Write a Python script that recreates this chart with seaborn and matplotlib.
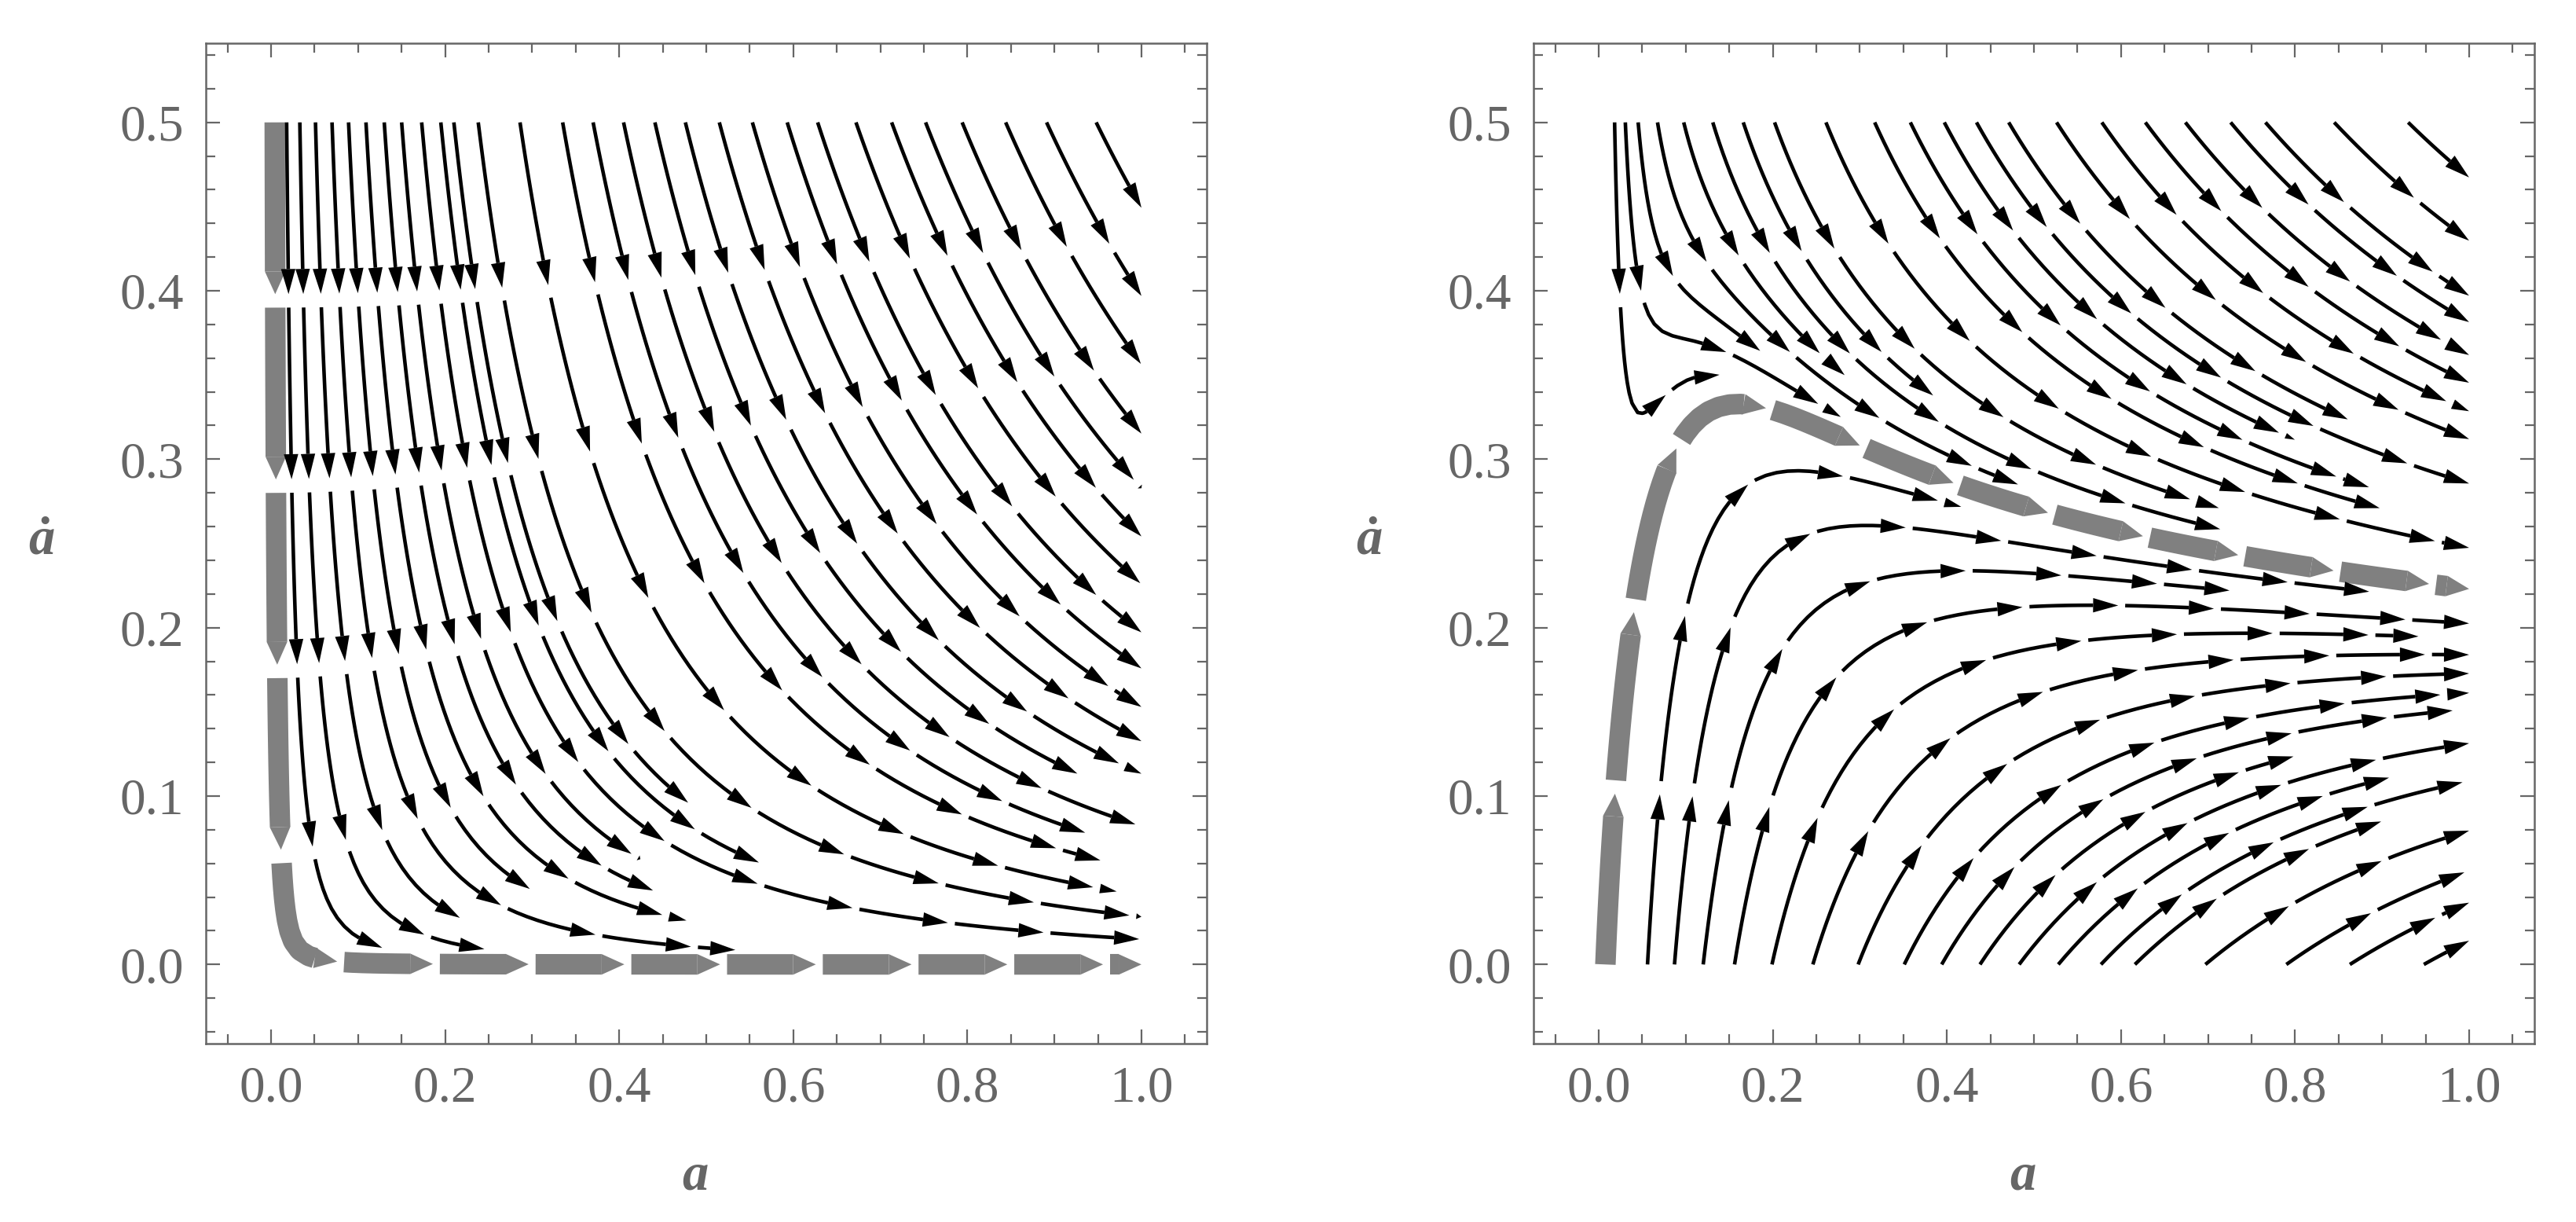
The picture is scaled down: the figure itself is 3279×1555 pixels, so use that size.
import numpy as np
import matplotlib
matplotlib.use("Agg")
import matplotlib.pyplot as plt
import seaborn as sns
from matplotlib.patches import FancyArrowPatch
from matplotlib.ticker import MultipleLocator, FormatStrFormatter

# ---------------- model parameters ----------------
# left panel:  a'' = -stiff_p * a'^2 / a      (trajectories a' ~ C / a^2)
stiff_p = 2.0
# right panel: trajectories a' = g(a) + C / a^relax_k, with the gray track g(a)
g_amp, g_pow, g_a0, g_tau = 0.223, 0.28, 0.0076, 0.068
relax_k = 1.5

# ---------------- stream seeds ----------------
left_gray_seed = [(0.0042, 0.5)]
left_top_a = [0.033, 0.051, 0.070, 0.089, 0.109, 0.130, 0.150, 0.173, 0.195,
              0.238, 0.286, 0.335, 0.370, 0.405, 0.441, 0.476, 0.515, 0.553,
              0.593, 0.628, 0.672, 0.713, 0.752, 0.794, 0.844, 0.891, 0.948]
left_extra = [(0.0215, 0.345), (0.21, 0.5)]

right_gray_seed = [(0.0076, 0.0)]
right_bottom_a = [0.056, 0.087, 0.120, 0.156, 0.199, 0.246, 0.298, 0.351,
                  0.394, 0.438, 0.483, 0.528, 0.577, 0.616, 0.697, 0.790,
                  0.863, 0.948]
right_top_a = [0.0305, 0.0675, 0.0976, 0.131, 0.166, 0.202, 0.261, 0.317,
               0.358, 0.397, 0.434, 0.471, 0.526, 0.578, 0.628, 0.674, 0.726,
               0.766, 0.845, 0.930]
right_extra = [(0.019, 0.48), (0.048, 0.485)]

a_range = (0.001, 1.0)
adot_range = (0.0, 0.5)

# ---------------- style ----------------
DPI = 200
W, H = 3279, 1555
frame_col = "#666666"
gray_col = "#808080"

sns.set_theme(style="ticks")
plt.rcParams["font.family"] = ["Liberation Serif", "DejaVu Serif"]
plt.rcParams.update({
    "axes.edgecolor": frame_col, "axes.linewidth": 0.9,
    "xtick.color": frame_col, "ytick.color": frame_col,
    "xtick.labelcolor": frame_col, "ytick.labelcolor": frame_col,
    "xtick.direction": "in", "ytick.direction": "in",
    "xtick.major.size": 6.5, "ytick.major.size": 6.5,
    "xtick.minor.size": 4.2, "ytick.minor.size": 4.2,
    "xtick.major.width": 0.8, "ytick.major.width": 0.8,
    "xtick.minor.width": 0.8, "ytick.minor.width": 0.8,
    "xtick.major.pad": 10, "ytick.major.pad": 10,
    "xtick.labelsize": 23.5, "ytick.labelsize": 23.5,
    "font.size": 23.5,
})


def left_field(A, Y):
    U = np.ones_like(A)
    V = -stiff_p * Y / A
    return U, V


def g_track(a):
    e = np.exp(-(a - g_a0) / g_tau)
    g = g_amp * a ** (-g_pow) * (1 - e)
    dg = g_amp * (-g_pow * a ** (-g_pow - 1) * (1 - e) + a ** (-g_pow) * e / g_tau)
    return g, dg


def right_field(A, Y):
    g, dg = g_track(A)
    U = np.ones_like(A)
    V = dg + relax_k * (g - Y) / A
    return U, V


def get_streams(field, seeds, density):
    a = np.linspace(*a_range, 1000)
    y = np.linspace(*adot_range, 500)
    A, Y = np.meshgrid(a, y)
    U, V = field(A, Y)
    f2, a2 = plt.subplots()
    sp = a2.streamplot(a, y, U, V, start_points=np.array(seeds), density=density,
                       broken_streamlines=True, integration_direction="both",
                       maxlength=20, minlength=0.01)
    segs = sp.lines.get_segments()
    plt.close(f2)
    return segs


def draw_dashed(ax, pts, color, lw, head_len, head_w, period=0.11, dash=0.102):
    # Mathematica style: chunks of fixed arc length, each ending with an arrow head
    d = np.hypot(np.diff(pts[:, 0]), np.diff(pts[:, 1]))
    s = np.concatenate([[0], np.cumsum(d)])
    total = s[-1]
    px_per_pt = DPI / 72.0
    start = 0.0
    while start < total - 2e-3:
        end = min(start + dash, total)
        ss = np.linspace(start, end, 60)
        xs = np.interp(ss, s, pts[:, 0])
        ys = np.interp(ss, s, pts[:, 1])
        disp = ax.transData.transform(np.column_stack([xs, ys]))
        dl = np.concatenate([[0], np.cumsum(np.hypot(*np.diff(disp, axis=0).T))])
        plen = dl[-1]
        hl_px = min(head_len * px_per_pt, plen)
        cut = plen - hl_px
        if cut > 0.5:
            k = np.searchsorted(dl, cut)
            cx = np.interp(cut, dl, xs)
            cy = np.interp(cut, dl, ys)
            ax.plot(np.r_[xs[:k], cx], np.r_[ys[:k], cy], color=color, lw=lw,
                    solid_capstyle="butt", solid_joinstyle="round", zorder=3)
        else:
            cx, cy = xs[0], ys[0]
        scale = hl_px / (head_len * px_per_pt)
        if plen > 1.0:
            arr = FancyArrowPatch((cx, cy), (xs[-1], ys[-1]),
                                  arrowstyle=f"-|>,head_length={head_len * scale:.3f},"
                                             f"head_width={head_w * max(scale, 0.4):.3f}",
                                  mutation_scale=1, lw=0, color=color,
                                  shrinkA=0, shrinkB=0, zorder=3)
            ax.add_patch(arr)
        start += period


def style_axes(ax):
    ax.set_xlim(-0.075, 1.075)
    ax.set_ylim(-0.047, 0.547)
    ax.xaxis.set_major_locator(MultipleLocator(0.2))
    ax.xaxis.set_minor_locator(MultipleLocator(0.05))
    ax.yaxis.set_major_locator(MultipleLocator(0.1))
    ax.yaxis.set_minor_locator(MultipleLocator(0.02))
    ax.xaxis.set_major_formatter(FormatStrFormatter("%.1f"))
    ax.yaxis.set_major_formatter(FormatStrFormatter("%.1f"))
    ax.tick_params(which="both", top=True, right=True, labeltop=False, labelright=False)
    for sp in ax.spines.values():
        sp.set_visible(True)
    ax.set_xlabel("a", fontsize=24, fontweight="bold", fontstyle="italic",
                  color=frame_col, va="center")
    ax.xaxis.set_label_coords(0.489, -0.133)
    ax.set_ylabel("ȧ", fontsize=24, fontweight="bold", fontstyle="italic",
                  color=frame_col, rotation=0, va="center", ha="center")
    ax.yaxis.set_label_coords(-0.164, 0.503)


fig = plt.figure(figsize=(W / DPI, H / DPI), dpi=DPI)
ax_l = fig.add_axes([262 / W, 1 - 1328 / H, 1274 / W, 1273 / H])
ax_r = fig.add_axes([1952 / W, 1 - 1328 / H, 1274 / W, 1273 / H])
for ax in (ax_l, ax_r):
    style_axes(ax)

black_style = dict(lw=1.65, head_len=11.5, head_w=3.3)
gray_style = dict(lw=9.4, head_len=10.4, head_w=4.7)

# left panel
seeds_l = left_gray_seed + [(a, 0.5) for a in left_top_a] + left_extra
segs_l = get_streams(left_field, seeds_l, (2.6, 1.0))
for i, seg in enumerate(segs_l):
    if i == 0:
        draw_dashed(ax_l, seg, gray_col, **gray_style)
    else:
        draw_dashed(ax_l, seg, "black", **black_style)

# right panel
seeds_r = (right_gray_seed + [(a, 0.0) for a in right_bottom_a]
           + [(a, 0.5) for a in right_top_a] + right_extra)
segs_r = get_streams(right_field, seeds_r, (2.6, 1.3))
for i, seg in enumerate(segs_r):
    if i == 0:
        draw_dashed(ax_r, seg, gray_col, **gray_style)
    else:
        draw_dashed(ax_r, seg, "black", **black_style)

fig.savefig("out.png", dpi=DPI)
